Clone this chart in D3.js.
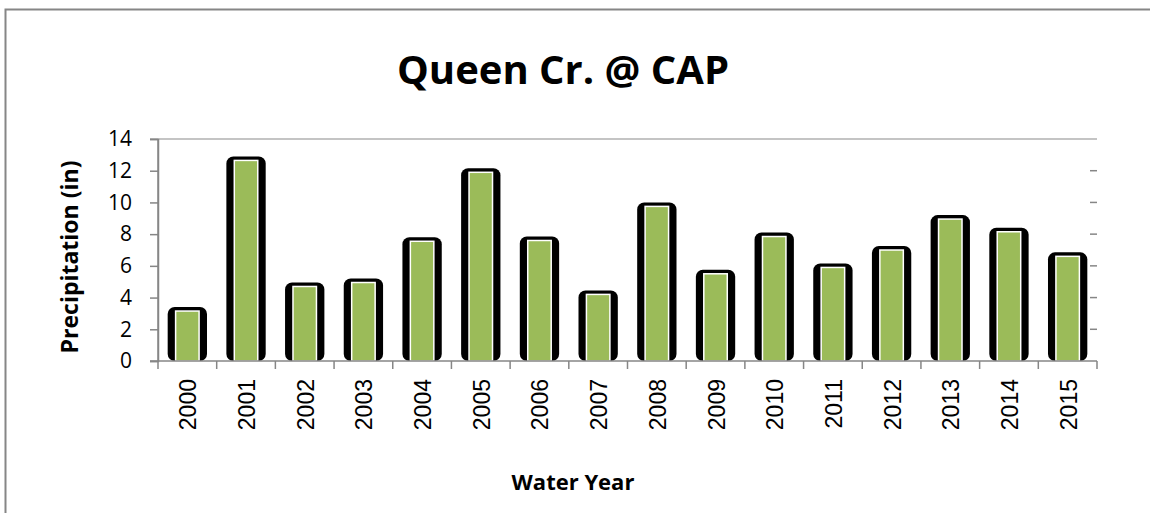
<!DOCTYPE html>
<html>
<head>
<meta charset="utf-8">
<script src="https://cdn.jsdelivr.net/npm/d3@7"></script>
<style>
  body { margin: 0; background: #fff; }
  svg { display: block; }
</style>
</head>
<body>
<div id="chart"></div>
<script>
// data
var years = ["2000","2001","2002","2003","2004","2005","2006","2007",
             "2008","2009","2010","2011","2012","2013","2014","2015"];
var precip = [3.15, 12.65, 4.7, 4.95, 7.55, 11.9, 7.6, 4.2,
              9.75, 5.5, 7.85, 5.9, 7.0, 8.95, 8.15, 6.6];
var yTicks = [0, 2, 4, 6, 8, 10, 12, 14];

var W = 1150, H = 513;
var margin = {left: 158, right: 53, top: 139, bottom: 152};
var axisGray = "#868686";

var svg = d3.select("#chart").append("svg")
  .attr("width", W).attr("height", H);

// chart frame (cropped on the right and bottom)
svg.append("rect")
  .attr("x", 5.5).attr("y", 9.5)
  .attr("width", 1200).attr("height", 600)
  .attr("fill", "none").attr("stroke", axisGray).attr("stroke-width", 2);

var x = d3.scaleBand().domain(years)
  .range([margin.left, W - margin.right]).padding(0);
var y = d3.scaleLinear().domain([0, 14])
  .range([H - margin.bottom, margin.top]);

var data = years.map(function(d, i){ return {year: d, value: precip[i]}; });

// top border line of plot area
svg.append("line")
  .attr("x1", margin.left - 8).attr("x2", W - margin.right)
  .attr("y1", y(14)).attr("y2", y(14))
  .attr("stroke", "#b0b0b0").attr("stroke-width", 1.5);

// left axis
var yAxis = d3.axisLeft(y).tickValues(yTicks).tickSize(8).tickPadding(18);
var gy = svg.append("g").attr("transform", "translate(" + margin.left + ",0)").call(yAxis);
gy.select(".domain").attr("stroke", axisGray).attr("stroke-width", 1.5);
gy.selectAll(".tick line").attr("stroke", axisGray).attr("stroke-width", 1.5);
gy.selectAll(".tick text")
  .attr("font-family", "'Open Sans', sans-serif")
  .attr("font-size", 21).attr("fill", "#000");

// right inner ticks
svg.append("g").selectAll("line")
  .data(yTicks.filter(function(d){ return d > 0 && d < 14; }))
  .enter().append("line")
  .attr("x1", W - margin.right - 7).attr("x2", W - margin.right)
  .attr("y1", function(d){ return y(d); }).attr("y2", function(d){ return y(d); })
  .attr("stroke", axisGray).attr("stroke-width", 1.5);

// bars: black halo + green bar with white edge
var bw = x.bandwidth();
svg.append("g").selectAll("rect")
  .data(data).enter().append("rect")
  .attr("x", function(d){ return x(d.year) + bw/2 - bw*0.335; })
  .attr("width", bw*0.67)
  .attr("y", function(d){ return y(d.value) - 4; })
  .attr("height", function(d){ return y(0) - y(d.value) + 4; })
  .attr("rx", 7)
  .attr("fill", "#000");

svg.append("g").selectAll("rect")
  .data(data).enter().append("rect")
  .attr("x", function(d){ return x(d.year) + bw/2 - bw*0.2; })
  .attr("width", bw*0.4)
  .attr("y", function(d){ return y(d.value); })
  .attr("height", function(d){ return y(0) - y(d.value); })
  .attr("fill", "#9BBB59")
  .attr("stroke", "#fff").attr("stroke-width", 1.5);

// bottom axis with ticks between categories
var bounds = years.map(function(d){ return x(d); }).concat([W - margin.right]);
svg.append("line")
  .attr("x1", margin.left - 8).attr("x2", W - margin.right)
  .attr("y1", y(0)).attr("y2", y(0))
  .attr("stroke", axisGray).attr("stroke-width", 1.5);
svg.append("line")
  .attr("x1", margin.left).attr("x2", margin.left)
  .attr("y1", y(14)).attr("y2", y(0))
  .attr("stroke", axisGray).attr("stroke-width", 1.5);
svg.append("g").selectAll("line")
  .data(bounds).enter().append("line")
  .attr("x1", function(d){ return d; }).attr("x2", function(d){ return d; })
  .attr("y1", y(0)).attr("y2", y(0) + 8)
  .attr("stroke", axisGray).attr("stroke-width", 1.5);

// rotated year labels
svg.append("g").selectAll("text")
  .data(years).enter().append("text")
  .attr("transform", function(d){
    return "translate(" + (x(d) + bw/2 + 9) + "," + 379 + ") rotate(-90)";
  })
  .attr("text-anchor", "end")
  .attr("font-family", "'Liberation Sans', Arial, sans-serif")
  .attr("font-size", 23)
  .text(function(d){ return d; });

// titles
svg.append("text")
  .attr("x", 563).attr("y", 84)
  .attr("text-anchor", "middle")
  .attr("font-family", "'Open Sans', sans-serif")
  .attr("font-weight", "bold").attr("font-size", 40)
  .text("Queen Cr. @ CAP");

svg.append("text")
  .attr("x", 573).attr("y", 490)
  .attr("text-anchor", "middle")
  .attr("font-family", "'Open Sans', sans-serif")
  .attr("font-weight", "bold").attr("font-size", 22)
  .text("Water Year");

svg.append("text")
  .attr("transform", "translate(78,257) rotate(-90)")
  .attr("text-anchor", "middle")
  .attr("font-family", "'Open Sans', sans-serif")
  .attr("font-weight", "bold").attr("font-size", 23)
  .text("Precipitation (in)");
</script>
</body>
</html>
